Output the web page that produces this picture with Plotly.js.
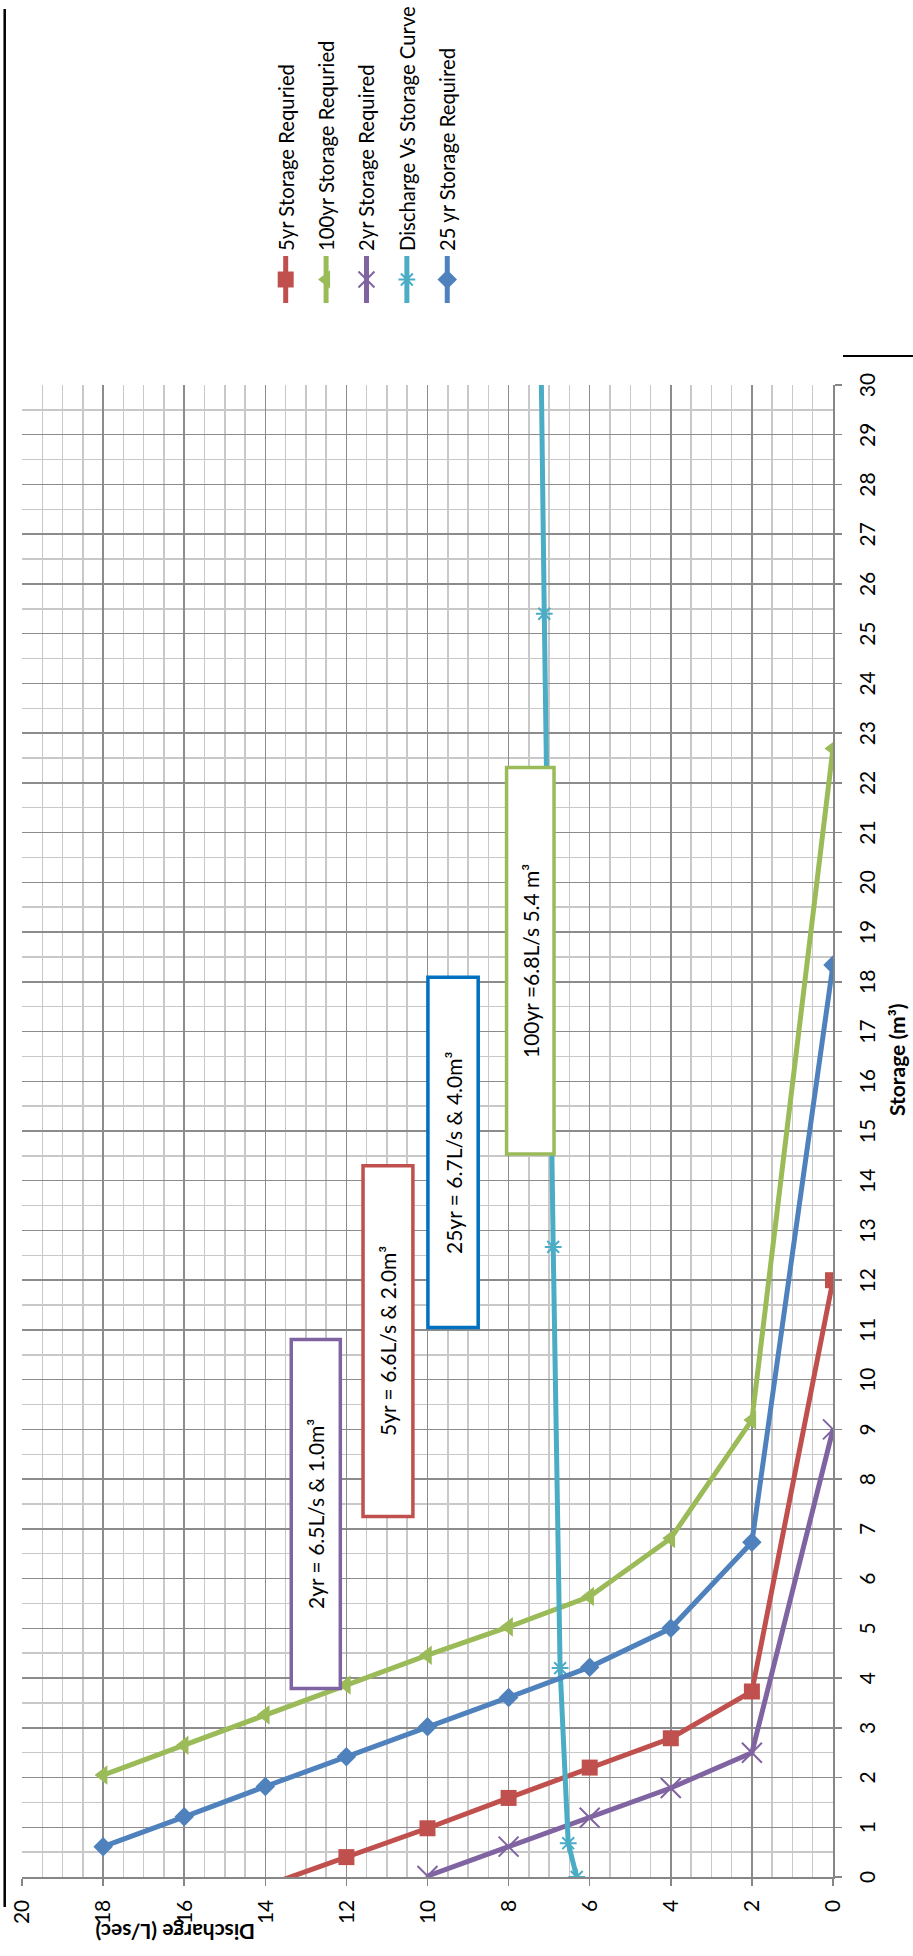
<!DOCTYPE html>
<html><head><meta charset="utf-8">
<script src="https://cdn.plot.ly/plotly-3.0.1.min.js"></script>
<style>
html,body{margin:0;padding:0;width:913px;height:1956px;overflow:hidden;background:#fff;}
#wrap{position:absolute;left:0;top:0;width:1956px;height:913px;transform-origin:0 0;transform:translate(0,1956px) rotate(-90deg);}
</style></head><body>
<div id="wrap"><div id="chart" style="width:1956px;height:913px"></div></div>
<script>
// ---- data (Storage m3 on x, Discharge L/s on y) ----
const seriesNames = ["5yr Storage Requried", "100yr Storage Requried", "2yr Storage Required", "Discharge Vs Storage Curve", "25 yr Storage Required"];
const q5yr = [0, 2, 4, 6, 8, 10, 12, 14];
const s5yr = [12.0, 3.73, 2.79, 2.20, 1.59, 0.98, 0.40, -0.18];
const q100yr = [0, 2, 4, 6, 8, 10, 12, 14, 16, 18];
const s100yr = [22.69, 9.19, 6.81, 5.64, 5.03, 4.46, 3.86, 3.26, 2.65, 2.05];
const q2yr = [0, 2, 4, 6, 8, 10];
const s2yr = [9.0, 2.50, 1.79, 1.19, 0.61, 0.02];
const qCurve = [6.32, 6.53, 6.73, 6.90, 7.12, 7.30];
const sCurve = [0.0, 0.68, 4.20, 12.67, 25.40, 37.0];
const q25yr = [0, 2, 4, 6, 8, 10, 12, 14, 16, 18];
const s25yr = [18.34, 6.73, 5.00, 4.22, 3.61, 3.02, 2.42, 1.82, 1.21, 0.61];
const boxTexts = ["2yr = 6.5L/s & 1.0m³", "5yr = 6.6L/s & 2.0m³", "25yr = 6.7L/s & 4.0m³", "100yr =6.8L/s 5.4 m³"];
const xTitle = "Storage (m³)";
const yTitle = "Discharge (L/sec)";

// ---- styling / layout ----
const FONT = "Lato, 'Open Sans', sans-serif";
const W = 1956, H = 913, ML = 79, MR = 385, MT = 22, MB = 80;
const PW = W - ML - MR, PH = H - MT - MB;
const px = v => (v - ML) / PW;
const py = v => 1 - (v - MT) / PH;

const colors = ["#C0504D", "#9BBB59", "#8064A2", "#4BACC6", "#4F81BD"];
const symbols = ["square", "triangle-up", "x-thin-open", "asterisk-open", "diamond"];
const msizes = [16, 17, 20, 14, 15];
const xs = [s5yr, s100yr, s2yr, sCurve, s25yr];
const ys = [q5yr, q100yr, q2yr, qCurve, q25yr];

const traces = seriesNames.map((n, i) => ({
  type: "scatter", mode: "lines+markers", name: n, legendgroup: "g" + i,
  x: xs[i], y: ys[i],
  line: {color: colors[i], width: 5},
  marker: {symbol: symbols[i], size: msizes[i], color: colors[i],
           line: {color: colors[i], width: (i === 2 || i === 3) ? 2 : 0}}
}));

// text boxes: [s0, s1, q0, q1] in data units
const boxes = [
  [3.79, 10.81, 12.15, 13.36],
  [7.25, 14.30, 10.36, 11.59],
  [11.05, 18.09, 8.75, 9.99],
  [14.54, 22.31, 6.88, 8.05]
];
const boxColors = ["#8064A2", "#C0504D", "#0070C0", "#9BBB59"];

const shapes = boxes.map((b, i) => ({
  type: "rect", xref: "x", yref: "y", x0: b[0], x1: b[1], y0: b[2], y1: b[3],
  line: {color: boxColors[i], width: 3.5}, fillcolor: "#ffffff", layer: "above"
}));
shapes.push({type: "line", xref: "paper", yref: "paper", x0: px(49), x1: px(1947), y0: py(4.7), y1: py(4.7), line: {color: "#000", width: 2.5}});
shapes.push({type: "line", xref: "paper", yref: "paper", x0: px(1600), x1: px(1600), y0: py(843), y1: py(913), line: {color: "#000", width: 2}});

const annotations = boxes.map((b, i) => ({
  xref: "x", yref: "y", x: (b[0] + b[1]) / 2, y: (b[2] + b[3]) / 2,
  text: boxTexts[i], showarrow: false, font: {family: FONT, size: 21, color: "#000"},
  xanchor: "center", yanchor: "middle"
}));
annotations.push({xref: "paper", yref: "paper", x: px(896), y: py(896), text: "<b>" + xTitle + "</b>",
  showarrow: false, xanchor: "center", yanchor: "middle", font: {family: FONT, size: 21, color: "#000"}});
annotations.push({xref: "paper", yref: "paper", x: px(23), y: py(175), text: "<b>" + yTitle + "</b>", textangle: -90,
  showarrow: false, xanchor: "center", yanchor: "middle", font: {family: FONT, size: 21, color: "#000"}});

const axisCommon = {
  ticks: "outside", ticklen: 7, tickwidth: 1.5, tickcolor: "#868686",
  showline: true, linecolor: "#868686", linewidth: 1.5,
  showgrid: true, gridcolor: "#8c8c8c", gridwidth: 1.5,
  zeroline: false, fixedrange: true,
  tickfont: {family: FONT, size: 21, color: "#000"}
};

const layout = {
  width: W, height: H, autosize: false,
  margin: {l: ML, r: MR, t: MT, b: MB, autoexpand: false},
  paper_bgcolor: "#fff", plot_bgcolor: "#fff",
  font: {family: FONT, size: 21, color: "#000"},
  showlegend: true,
  legend: {x: px(1648), xanchor: "left", y: py(266), yanchor: "top",
           traceorder: "grouped", tracegroupgap: 11, itemwidth: 47,
           font: {family: FONT, size: 20.3, color: "#000"}, bgcolor: "rgba(0,0,0,0)"},
  xaxis: Object.assign({}, axisCommon, {range: [0, 30], tick0: 0, dtick: 1, ticklabelstandoff: 8,
          minor: {dtick: 0.5, showgrid: true, gridcolor: "#c8c8c8", gridwidth: 1.5, ticks: ""}}),
  yaxis: Object.assign({}, axisCommon, {range: [0, 20], tick0: 0, dtick: 2, ticklabelstandoff: 10,
          minor: {dtick: 0.5, showgrid: true, gridcolor: "#c8c8c8", gridwidth: 1.5, ticks: ""}}),
  shapes: shapes,
  annotations: annotations
};

Plotly.newPlot("chart", traces, layout, {displayModeBar: false, staticPlot: true});
</script>
</body></html>
